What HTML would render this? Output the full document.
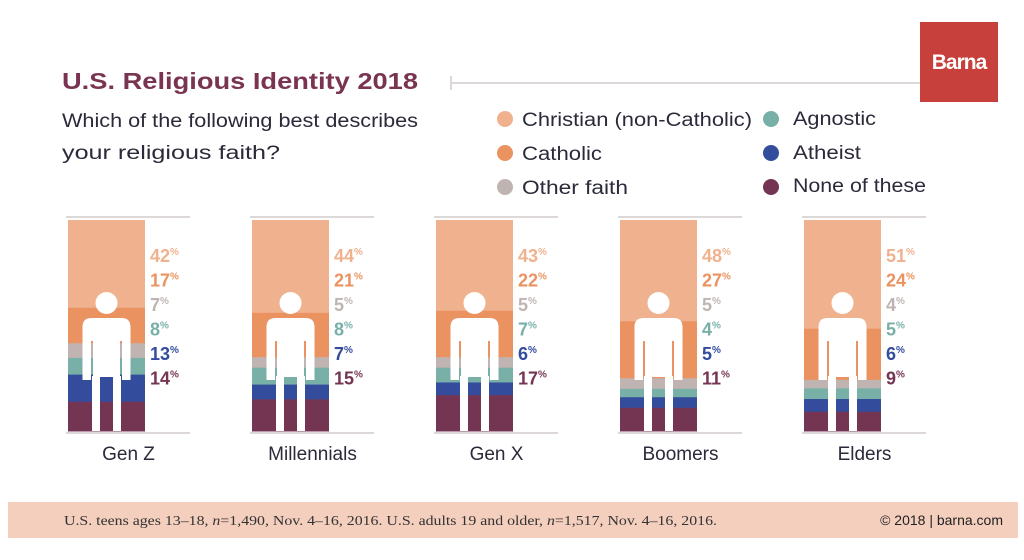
<!DOCTYPE html>
<html><head><meta charset="utf-8"><style>
body{margin:0;width:1024px;height:555px;background:#fff;overflow:hidden;font-family:"Liberation Sans",sans-serif;}
</style></head><body>
<svg id="s" width="1024" height="555" xmlns="http://www.w3.org/2000/svg" font-family="Liberation Sans, sans-serif">
<rect x="920" y="22" width="78" height="80" fill="#c8403b"/>
<text x="959" y="69" fill="#fff" font-size="21" font-weight="bold" text-anchor="middle" letter-spacing="-1">Barna</text>
<line x1="451" y1="83" x2="920" y2="83" stroke="#dcd8d8" stroke-width="2"/>
<line x1="451" y1="76" x2="451" y2="90" stroke="#dcd8d8" stroke-width="2"/>
<text x="62" y="89" fill="#7a3350" font-size="23" font-weight="bold" textLength="356" lengthAdjust="spacingAndGlyphs">U.S. Religious Identity 2018</text>
<text x="62" y="127" fill="#2a2a3a" font-size="19" textLength="356" lengthAdjust="spacingAndGlyphs">Which of the following best describes</text>
<text x="62" y="159" fill="#2a2a3a" font-size="19" textLength="218" lengthAdjust="spacingAndGlyphs">your religious faith?</text>
<g font-size="19" fill="#2a2a3a">
<circle cx="505" cy="119" r="8" fill="#f0b28e"/><text x="522" y="126" textLength="230" lengthAdjust="spacingAndGlyphs">Christian (non-Catholic)</text>
<circle cx="505" cy="153" r="8" fill="#ea9360"/><text x="522" y="160" textLength="80" lengthAdjust="spacingAndGlyphs">Catholic</text>
<circle cx="505" cy="187" r="8" fill="#c0b4b2"/><text x="522" y="194" textLength="106" lengthAdjust="spacingAndGlyphs">Other faith</text>
<circle cx="771" cy="119" r="8" fill="#78b0a8"/><text x="793" y="125" textLength="83" lengthAdjust="spacingAndGlyphs">Agnostic</text>
<circle cx="771" cy="153" r="8" fill="#334c9c"/><text x="793" y="159" textLength="68" lengthAdjust="spacingAndGlyphs">Atheist</text>
<circle cx="771" cy="187" r="8" fill="#743552"/><text x="793" y="192" textLength="133" lengthAdjust="spacingAndGlyphs">None of these</text>
</g>
<g id="cols"></g>
<rect x="8" y="502" width="1010" height="36" fill="#f5cfbd"/>
<text x="64" y="525" fill="#333" font-size="14" font-family="Liberation Serif, serif" textLength="653" lengthAdjust="spacingAndGlyphs">U.S. teens ages 13–18, <tspan font-style="italic">n</tspan>=1,490, Nov. 4–16, 2016. U.S. adults 19 and older, <tspan font-style="italic">n</tspan>=1,517, Nov. 4–16, 2016.</text>
<text x="1003" y="525" fill="#222" font-size="14" text-anchor="end">© 2018 | barna.com</text>
</svg>
<script>
var cols=["#f0b28e","#ea9360","#c0b4b2","#78b0a8","#334c9c","#743552"];
var data=[["Gen Z",[42,17,7,8,13,14]],["Millennials",[44,21,5,8,7,15]],["Gen X",[43,22,5,7,6,17]],["Boomers",[48,27,5,4,5,11]],["Elders",[51,24,4,5,6,9]]];
var h="";
function r(x,y,w,hh){return '<rect x="'+x+'" y="'+y+'" width="'+w+'" height="'+hh+'" fill="#fff"/>';}
data.forEach(function(d,i){
var x=68+i*184,w=77,top=220,bot=431,sum=d[1].reduce(function(a,b){return a+b},0),y=top;
h+='<line x1="'+(x-2)+'" y1="217" x2="'+(x+122)+'" y2="217" stroke="#dcd8d8" stroke-width="2"/>';
h+='<line x1="'+(x-2)+'" y1="433" x2="'+(x+122)+'" y2="433" stroke="#dcd8d8" stroke-width="2"/>';
d[1].forEach(function(v,j){var hh=v/sum*(bot-top);h+='<rect x="'+x+'" y="'+y+'" width="'+w+'" height="'+(hh+0.5)+'" fill="'+cols[j]+'"/>';y+=hh;
h+='<text x="'+(x+w+5)+'" y="'+(262+j*24.5)+'" fill="'+cols[j]+'" font-size="18" font-weight="bold">'+v+'<tspan font-size="10" dy="-7">%</tspan></text>';});
var c=x+38.5;
h+='<circle cx="'+c+'" cy="303" r="11" fill="#fff"/>';
h+='<path d="M'+(c-24)+' 341 V327 Q'+(c-24)+' 318 '+(c-15)+' 318 H'+(c+15)+' Q'+(c+24)+' 318 '+(c+24)+' 327 V341 Z" fill="#fff"/>';
h+=r(c-24,340,8.5,40)+r(c+15.5,340,8.5,40)+r(c-13.5,340,27,37)+r(c-14.5,376,8,55)+r(c+6.5,376,8,55);
h+='<text x="'+(c+22)+'" y="460" fill="#2a2a3a" font-size="19" text-anchor="middle">'+d[0]+'</text>';
});
document.getElementById("cols").innerHTML=h;
</script>
</body></html>
